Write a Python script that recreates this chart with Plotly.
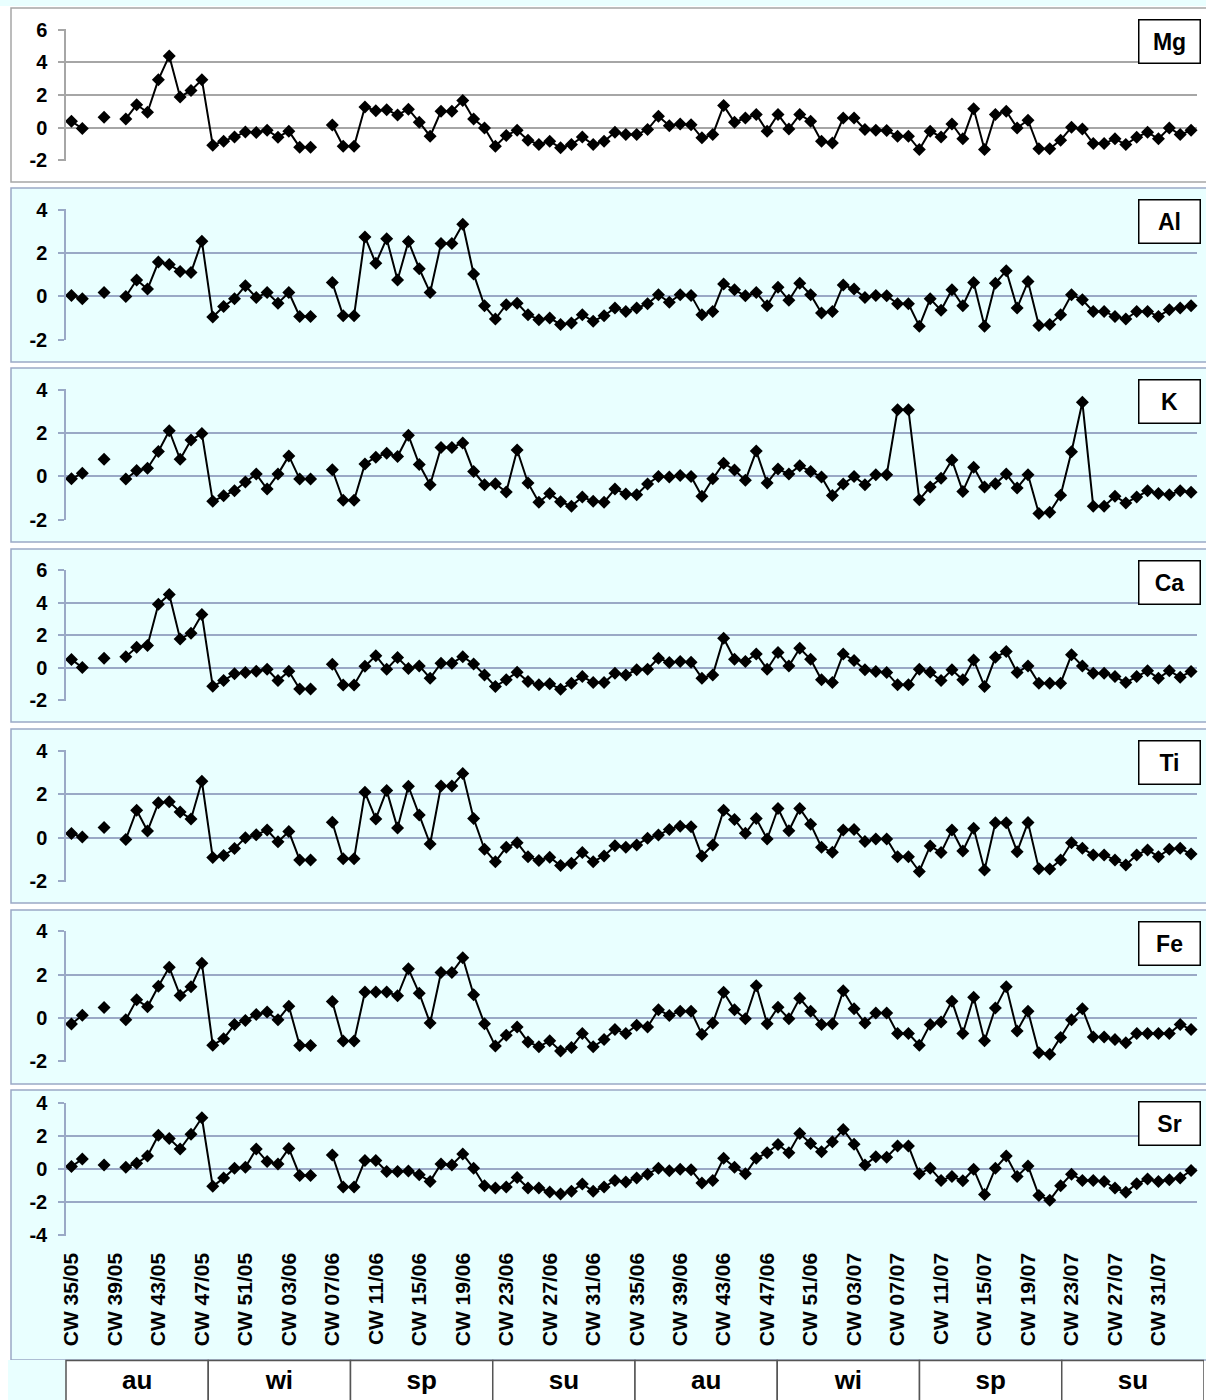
import plotly.graph_objects as go

# ---------------- data ----------------
weeks = ([f"CW {w:02d}/05" for w in range(35, 53)]
         + [f"CW {w:02d}/06" for w in range(1, 53)]
         + [f"CW {w:02d}/07" for w in range(1, 35)])

tick_labels = ["CW 35/05", "CW 39/05", "CW 43/05", "CW 47/05", "CW 51/05",
               "CW 03/06", "CW 07/06", "CW 11/06", "CW 15/06", "CW 19/06",
               "CW 23/06", "CW 27/06", "CW 31/06", "CW 35/06", "CW 39/06",
               "CW 43/06", "CW 47/06", "CW 51/06", "CW 03/07", "CW 07/07",
               "CW 11/07", "CW 15/07", "CW 19/07", "CW 23/07", "CW 27/07",
               "CW 31/07"]

seasons = ["au", "wi", "sp", "su", "au", "wi", "sp", "su"]

Mg = [0.39, -0.06, None, 0.63, None, 0.53, 1.40, 0.94, 2.94, 4.40,
      1.88, 2.28, 2.94, -1.08, -0.84, -0.57, -0.27, -0.30, -0.16, -0.59,
      -0.22, -1.20, -1.20, None, 0.16, -1.14, -1.14, 1.26, 1.04, 1.10,
      0.78, 1.13, 0.33, -0.53, 1.00, 1.00, 1.67, 0.53, -0.02, -1.14,
      -0.49, -0.16, -0.77, -1.04, -0.84, -1.24, -1.04, -0.57, -1.04, -0.84,
      -0.29, -0.43, -0.43, -0.12, 0.69, 0.12, 0.22, 0.18, -0.63, -0.43,
      1.35, 0.33, 0.59, 0.80, -0.22, 0.80, -0.08, 0.80, 0.39, -0.84,
      -0.94, 0.59, 0.59, -0.12, -0.16, -0.18, -0.53, -0.53, -1.35, -0.22,
      -0.57, 0.22, -0.69, 1.16, -1.35, 0.80, 1.00, -0.02, 0.45, -1.30,
      -1.30, -0.77, 0.02, -0.08, -0.98, -0.98, -0.69, -1.04, -0.59, -0.29,
      -0.69, -0.02, -0.43, -0.16]

Al = [0.05, -0.10, None, 0.18, None, 0.00, 0.76, 0.34, 1.59, 1.48,
      1.15, 1.11, 2.55, -0.95, -0.46, -0.11, 0.49, -0.05, 0.18, -0.31,
      0.18, -0.92, -0.92, None, 0.64, -0.89, -0.89, 2.75, 1.53, 2.67,
      0.76, 2.54, 1.28, 0.18, 2.44, 2.44, 3.33, 1.04, -0.43, -1.04,
      -0.38, -0.31, -0.84, -1.07, -0.99, -1.30, -1.22, -0.84, -1.15, -0.89,
      -0.53, -0.69, -0.53, -0.34, 0.08, -0.27, 0.08, 0.05, -0.84, -0.69,
      0.58, 0.31, 0.03, 0.18, -0.43, 0.43, -0.18, 0.61, 0.08, -0.76,
      -0.69, 0.53, 0.34, -0.05, 0.05, 0.03, -0.34, -0.34, -1.37, -0.11,
      -0.64, 0.31, -0.43, 0.64, -1.37, 0.61, 1.19, -0.53, 0.69, -1.34,
      -1.30, -0.84, 0.08, -0.15, -0.69, -0.69, -0.92, -1.04, -0.69, -0.69,
      -0.92, -0.61, -0.53, -0.43]

K = [-0.11, 0.15, None, 0.79, None, -0.12, 0.27, 0.38, 1.15, 2.11,
     0.79, 1.68, 1.98, -1.15, -0.89, -0.66, -0.26, 0.11, -0.58, 0.11,
     0.95, -0.12, -0.12, None, 0.31, -1.10, -1.10, 0.58, 0.89, 1.07,
     0.92, 1.90, 0.55, -0.38, 1.34, 1.34, 1.55, 0.23, -0.38, -0.34,
     -0.72, 1.22, -0.30, -1.19, -0.79, -1.17, -1.37, -0.95, -1.14, -1.19,
     -0.58, -0.81, -0.84, -0.35, 0.00, -0.03, 0.05, 0.00, -0.91, -0.11,
     0.61, 0.30, -0.18, 1.17, -0.30, 0.34, 0.11, 0.49, 0.23, -0.03,
     -0.88, -0.35, 0.00, -0.38, 0.08, 0.08, 3.08, 3.08, -1.07, -0.49,
     -0.08, 0.76, -0.69, 0.43, -0.49, -0.34, 0.11, -0.53, 0.08, -1.71,
     -1.65, -0.87, 1.14, 3.43, -1.37, -1.37, -0.91, -1.22, -0.95, -0.66,
     -0.79, -0.84, -0.66, -0.73]

Ca = [0.52, 0.02, None, 0.59, None, 0.69, 1.26, 1.38, 3.90, 4.51,
      1.78, 2.12, 3.27, -1.13, -0.78, -0.36, -0.29, -0.21, -0.08, -0.78,
      -0.21, -1.30, -1.30, None, 0.23, -1.05, -1.05, 0.10, 0.75, -0.08,
      0.63, -0.03, 0.12, -0.63, 0.29, 0.29, 0.69, 0.24, -0.43, -1.14,
      -0.73, -0.27, -0.84, -1.04, -0.98, -1.31, -0.94, -0.53, -0.90, -0.90,
      -0.33, -0.43, -0.12, -0.08, 0.59, 0.33, 0.39, 0.35, -0.63, -0.43,
      1.82, 0.53, 0.39, 0.86, -0.08, 0.94, 0.12, 1.20, 0.53, -0.73,
      -0.90, 0.86, 0.45, -0.12, -0.22, -0.29, -1.04, -1.04, -0.08, -0.27,
      -0.78, -0.12, -0.73, 0.49, -1.14, 0.65, 1.00, -0.29, 0.12, -0.94,
      -0.94, -0.94, 0.80, 0.12, -0.33, -0.33, -0.53, -0.90, -0.53, -0.18,
      -0.63, -0.18, -0.57, -0.22]

Ti = [0.19, 0.03, None, 0.47, None, -0.08, 1.26, 0.31, 1.60, 1.65,
      1.18, 0.86, 2.59, -0.91, -0.82, -0.50, 0.00, 0.13, 0.35, -0.19,
      0.28, -1.02, -1.02, None, 0.71, -0.97, -0.97, 2.08, 0.86, 2.17,
      0.44, 2.36, 1.04, -0.29, 2.37, 2.37, 2.94, 0.88, -0.53, -1.10,
      -0.44, -0.23, -0.87, -1.05, -0.90, -1.28, -1.17, -0.68, -1.10, -0.84,
      -0.37, -0.44, -0.33, -0.03, 0.12, 0.38, 0.53, 0.50, -0.84, -0.33,
      1.26, 0.84, 0.20, 0.88, -0.06, 1.34, 0.32, 1.34, 0.62, -0.44,
      -0.67, 0.35, 0.38, -0.18, -0.06, -0.06, -0.87, -0.87, -1.55, -0.38,
      -0.68, 0.35, -0.61, 0.43, -1.48, 0.68, 0.68, -0.64, 0.70, -1.43,
      -1.44, -1.02, -0.23, -0.49, -0.79, -0.79, -1.02, -1.25, -0.79, -0.56,
      -0.87, -0.53, -0.49, -0.75]

Fe = [-0.27, 0.13, None, 0.49, None, -0.08, 0.84, 0.52, 1.47, 2.34,
      1.04, 1.44, 2.53, -1.25, -0.95, -0.30, -0.11, 0.17, 0.28, -0.08,
      0.55, -1.26, -1.26, None, 0.76, -1.06, -1.06, 1.20, 1.20, 1.20,
      1.03, 2.27, 1.14, -0.23, 2.10, 2.10, 2.78, 1.08, -0.26, -1.29,
      -0.79, -0.41, -1.10, -1.32, -1.05, -1.52, -1.35, -0.71, -1.32, -0.99,
      -0.53, -0.71, -0.33, -0.41, 0.38, 0.12, 0.32, 0.32, -0.75, -0.23,
      1.19, 0.38, -0.03, 1.49, -0.26, 0.50, -0.03, 0.91, 0.32, -0.29,
      -0.26, 1.26, 0.43, -0.23, 0.23, 0.23, -0.71, -0.71, -1.25, -0.29,
      -0.18, 0.78, -0.71, 0.96, -1.05, 0.47, 1.44, -0.59, 0.32, -1.60,
      -1.67, -0.90, -0.08, 0.43, -0.87, -0.87, -0.99, -1.14, -0.71, -0.71,
      -0.71, -0.71, -0.29, -0.53]

Sr = [0.16, 0.62, None, 0.26, None, 0.12, 0.36, 0.80, 2.06, 1.86,
      1.22, 2.12, 3.12, -1.04, -0.54, 0.06, 0.12, 1.22, 0.46, 0.32,
      1.26, -0.38, -0.38, None, 0.86, -1.08, -1.08, 0.52, 0.52, -0.14,
      -0.14, -0.11, -0.34, -0.74, 0.32, 0.26, 0.92, 0.06, -1.00, -1.14,
      -1.08, -0.50, -1.14, -1.14, -1.38, -1.50, -1.34, -0.90, -1.34, -1.08,
      -0.68, -0.78, -0.54, -0.30, 0.06, -0.10, 0.00, -0.04, -0.84, -0.68,
      0.66, 0.12, -0.28, 0.66, 1.00, 1.50, 1.00, 2.16, 1.56, 1.06,
      1.66, 2.40, 1.52, 0.26, 0.76, 0.72, 1.40, 1.40, -0.28, 0.06,
      -0.68, -0.44, -0.70, 0.00, -1.54, 0.06, 0.80, -0.44, 0.20, -1.60,
      -1.88, -1.00, -0.30, -0.68, -0.68, -0.74, -1.14, -1.40, -0.88, -0.60,
      -0.74, -0.64, -0.54, -0.08]

series = [("Mg", Mg, -2, 6), ("Al", Al, -2, 4), ("K", K, -2, 4),
          ("Ca", Ca, -2, 6), ("Ti", Ti, -2, 4), ("Fe", Fe, -2, 4),
          ("Sr", Sr, -4, 4)]

for _n, _v, _a, _b in series:
    assert len(_v) == len(weeks), (_n, len(_v))

# ---------------- layout geometry (pixels) ----------------
W, H = 1206, 1400
# frame_top, frame_bottom, plot_top, plot_bottom
geom = [(8, 182, 29.3, 160.7),
        (188, 362, 209.3, 340.3),
        (368, 542, 389.3, 520.3),
        (549, 722, 569.6, 701.0),
        (729, 903, 750.0, 881.8),
        (910, 1084, 930.8, 1062.0),
        (1090, 1360, 1102.7, 1235.7)]

PLOT_L, PLOT_R = 66.0, 1196.5
FONT = "Liberation Sans"
CYAN = "#E9FFFF"
BLUEGREY = "#9AA9C6"
GREY = "#A6A6A6"


def px(x):
    return x / W


def py(y):
    return 1 - y / H


def bold(s):
    return "<b>%s</b>" % s


fig = go.Figure()
shapes = []
annotations = []
layout = {}

# thin cyan strip above first panel
shapes.append(dict(type="rect", xref="paper", yref="paper", x0=0, x1=1,
                   y0=py(6), y1=1, fillcolor=CYAN, line_width=0, layer="below"))

for i, ((name, vals, lo, hi), (ft, fb, pt, pb)) in enumerate(zip(series, geom)):
    n = i + 1
    sfx = "" if n == 1 else str(n)
    first = (n == 1)
    last = (n == len(series))
    gcol = GREY if first else BLUEGREY

    # panel frame
    shapes.append(dict(type="rect", xref="paper", yref="paper",
                       x0=px(11), x1=px(1215), y0=py(fb), y1=py(ft),
                       fillcolor="white" if first else CYAN,
                       line=dict(color=gcol, width=1.5), layer="below"))

    fig.add_trace(go.Scatter(
        x=weeks, y=vals, mode="lines+markers", name=name,
        line=dict(color="black", width=2),
        marker=dict(symbol="diamond", size=10, color="black"),
        connectgaps=False, showlegend=False,
        xaxis="x" + sfx, yaxis="y" + sfx, cliponaxis=False))

    layout["xaxis" + sfx] = dict(
        domain=[px(PLOT_L), px(PLOT_R)], anchor="y" + sfx, automargin=False,
        type="category", range=[-0.5, len(weeks) - 0.5],
        showgrid=False, zeroline=False, showline=False,
        ticks="", showticklabels=last,
        tickmode="array", tickvals=tick_labels,
        ticktext=[bold(t) for t in tick_labels],
        tickangle=-90, ticklabelstandoff=12,
        tickfont=dict(family=FONT, size=21, color="black", weight="bold"))

    yticks = list(range(lo, hi + 1, 2))
    layout["yaxis" + sfx] = dict(
        domain=[py(pb), py(pt)], anchor="x" + sfx, automargin=False,
        range=[lo - 0.004 * (hi - lo), hi + 0.004 * (hi - lo)],
        tickmode="array", tickvals=yticks,
        ticktext=[bold(str(v)) for v in yticks],
        showgrid=True, gridcolor=gcol, gridwidth=1.5,
        zeroline=False, showline=True, linecolor=gcol, linewidth=1.5,
        ticks="outside", ticklen=6, tickwidth=1.5, tickcolor=gcol,
        ticklabelstandoff=7,
        tickfont=dict(family=FONT, size=20, color="black", weight="bold"))

    # element label box
    annotations.append(dict(
        text=bold(name), xref="paper", yref="paper",
        x=px(1201), y=py(ft + 11), xanchor="right", yanchor="top",
        showarrow=False, width=58, height=40, align="center", valign="middle",
        bgcolor="white", bordercolor="black", borderwidth=1.5, borderpad=1,
        font=dict(family=FONT, size=23, color="black")))

# ---------------- season table ----------------
SEAS_L, SEAS_R = 66.0, 1204.0
cell = (SEAS_R - SEAS_L) / len(seasons)
x8_lo = -0.05
layout["xaxis8"] = dict(domain=[px(SEAS_L + x8_lo * cell), px(SEAS_R)], anchor="y8",
                        range=[x8_lo, len(seasons)], visible=False, automargin=False)
layout["yaxis8"] = dict(domain=[0, py(1356)], anchor="x8", range=[0, 1],
                        visible=False, automargin=False)

shapes.append(dict(type="rect", xref="paper", yref="paper",
                   x0=px(8), x1=px(SEAS_L), y0=0, y1=py(1360),
                   fillcolor=CYAN, line_width=0, layer="below"))
for k in range(len(seasons)):
    shapes.append(dict(type="rect", xref="x8", yref="y8",
                       x0=k, x1=k + 1, y0=-0.5, y1=0.9,
                       fillcolor="white", line=dict(color="#555555", width=1.5),
                       layer="below"))

fig.add_trace(go.Scatter(
    x=[k + 0.5 for k in range(len(seasons))], y=[0.4] * len(seasons),
    text=[bold(s) for s in seasons], mode="text", textposition="middle center",
    textfont=dict(family=FONT, size=26, color="black"),
    xaxis="x8", yaxis="y8", showlegend=False, hoverinfo="skip"))

fig.update_layout(
    width=W, height=H, margin=dict(l=0, r=0, t=0, b=0, pad=0),
    autosize=False,
    paper_bgcolor="white", plot_bgcolor="rgba(0,0,0,0)",
    showlegend=False, shapes=shapes, annotations=annotations,
    **layout)

fig.write_html("out.html")
